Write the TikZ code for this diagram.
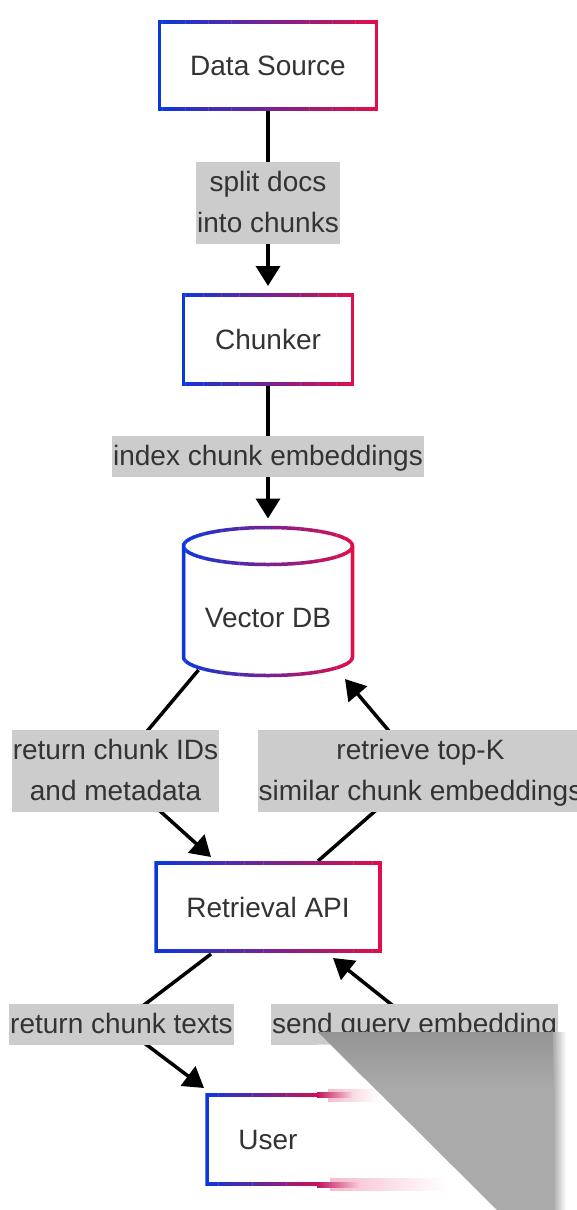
\documentclass[tikz,border=0pt]{standalone}
\usepackage{fontspec}
\setmainfont{Liberation Sans}
\usetikzlibrary{arrows.meta,calc}
\definecolor{cblue}{RGB}{8,56,222}
\definecolor{cred}{RGB}{226,14,72}
\definecolor{txt}{HTML}{333333}
\definecolor{labgray}{HTML}{CCCCCC}
\definecolor{artgray}{HTML}{AAAAAA}
\definecolor{artdark}{HTML}{959595}
\newcommand{\labfont}{\fontsize{28}{41}\selectfont}
\newcommand{\ls}{\rule[-11.5pt]{0pt}{41pt}}
% gradient stroke: #1 = left x, #2 = right x, #3 = path
\newcommand{\gradstroke}[3]{%
  \foreach \k in {0,...,47}{%
    \pgfmathsetmacro{\xa}{#1+(#2-#1)*\k/48}%
    \pgfmathsetmacro{\xb}{#1+(#2-#1)*(\k+1)/48+0.4}%
    \pgfmathsetmacro{\pc}{100*(\k+0.5)/48}%
    \begin{scope}
      \clip (\xa,-10) rectangle (\xb,1220);
      \draw[border, cred!\pc!cblue] #3;
    \end{scope}
  }%
}
\begin{document}
\begin{tikzpicture}[x=1pt,y=-1pt,
  boxnode/.style={rectangle, fill=white, inner sep=0pt, outer sep=0pt, text=txt,
    font=\labfont, text height=20pt, text depth=0pt},
  labnode/.style={fill=labgray, inner xsep=1pt, inner ysep=0pt, text=txt,
    font=\labfont, align=center},
  arr/.style={line width=3.5pt, -{Triangle[length=20pt,width=24pt]}},
  border/.style={line width=3.5pt}]
\useasboundingbox (0,0) rectangle (576,1210);

% ---- main nodes ----
\node[boxnode, minimum width=217pt, minimum height=87pt] (ds) at (268,65.5) {Data Source};
\node[boxnode, minimum width=169pt, minimum height=89pt] (ch) at (268,339.5) {Chunker};
\fill[white] (268,546) ellipse [x radius=84.5, y radius=18.5];
\fill[white] (183.5,546) -- (183.5,657) arc[start angle=180, end angle=0, x radius=84.5, y radius=18.5] -- (352.5,546) -- cycle;
\node[boxnode, fill=none, text height=51pt, minimum width=169pt, minimum height=148pt] (vdb) at (268,601.5) {Vector DB};
\node[boxnode, minimum width=224pt, minimum height=88pt] (ra) at (268,907) {Retrieval API};
\node[boxnode, minimum width=122pt, minimum height=89pt] (user) at (268,1139.5) {User};

% ---- connector points ----
\coordinate (vdbL) at (198.5,670);
\coordinate (b1) at (114.5,770);
\coordinate (raTL) at (211,857);
\coordinate (raTR) at (318,861);
\coordinate (b2) at (422,770);
\coordinate (vdbR) at (345,679);
\coordinate (raBL) at (211,954);
\coordinate (b3) at (119,1024);
\coordinate (userTL) at (204,1088);
\coordinate (userTR) at (333,1093);
\coordinate (b4) at (416,1024);
\coordinate (raBR) at (333,958);

% ---- connectors ----
\draw[arr, shorten >=9pt] (ds) -- (ch);
\draw[arr, shorten >=9pt] (ch) -- (vdb);
\draw[arr] (vdbL) -- (b1) -- (raTL);
\draw[arr] (raTR) -- (b2) -- (vdbR);
\draw[arr] (raBL) -- (b3) -- (userTL);
\draw[arr] (userTR) -- (b4) -- (raBR);

% ---- labels ----
\node[labnode] (l1) at (268,202.5) {\ls split docs\\\ls into chunks};
\node[labnode] (l2) at (268,456.5) {\ls index chunk embeddings};
\node[labnode] (l3) at (115.5,770.5) {\ls return chunk IDs\\\ls and metadata};
\node[labnode] (l4) at (420.5,770.5) {\ls retrieve top-K\\\ls similar chunk embeddings};
\node[labnode] (l5) at (121.5,1024) {\ls return chunk texts};
\node[labnode] (l6) at (414.5,1024) {\ls send query embedding};

% ---- gradient borders ----
\gradstroke{157.75}{378.25}{(ds.north west) rectangle (ds.south east)}
\gradstroke{181.75}{354.25}{(ch.north west) rectangle (ch.south east)}
\gradstroke{154.25}{381.75}{(ra.north west) rectangle (ra.south east)}
\gradstroke{181.75}{354.25}{(268,546) ellipse [x radius=84.5, y radius=18.5] (183.5,546) -- (183.5,657) arc[start angle=180, end angle=0, x radius=84.5, y radius=18.5] -- (352.5,546)}
\begin{scope}
  \clip (0,0) rectangle (317,1210);
  \gradstroke{205.25}{330.75}{(user.north west) rectangle (user.south east)}
\end{scope}

% ---- image artefact at bottom right ----
\fill[white] (317,1044.5) -- (330.5,1044.5) -- (497,1210) -- (317,1210) -- cycle;
\shade[left color=cred!28!white, right color=white] (328,1089) rectangle (380,1101);
\shade[left color=cred!85!cblue, right color=cred!20!white] (317,1092.5) rectangle (352,1097.5);
\shade[left color=cred!28!white, right color=white] (330,1178) rectangle (445,1190);
\shade[left color=cred!85!cblue, right color=cred!20!white] (317,1182) rectangle (360,1187);
\fill[artgray] (318,1032) -- (557,1032) -- (557,1210) -- (497,1210) -- cycle;
\begin{scope}
  \clip (318,1032) -- (557,1032) -- (557,1210) -- (497,1210) -- cycle;
  \shade[top color=artdark, bottom color=artgray] (318,1032) rectangle (557,1090);
\end{scope}
\shade[left color=artgray, right color=white] (553,1032) rectangle (566,1210);
\end{tikzpicture}
\end{document}
